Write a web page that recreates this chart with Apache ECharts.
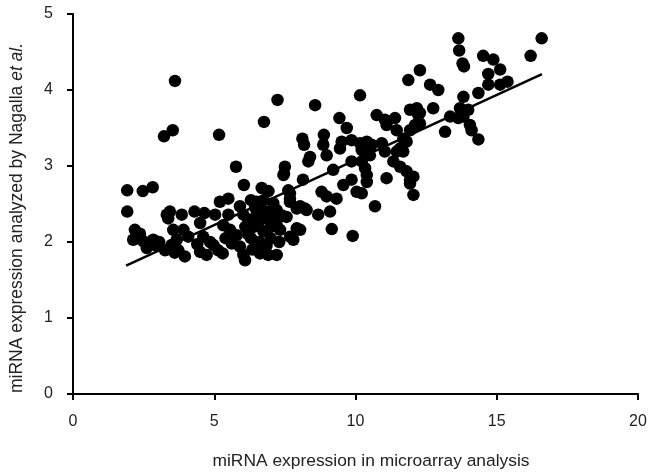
<!DOCTYPE html>
<html>
<head>
<meta charset="utf-8">
<script src="https://cdn.jsdelivr.net/npm/echarts@6/dist/echarts.min.js"></script>
<style>html,body{margin:0;padding:0;background:#fff;}#c{width:652px;height:474px;}</style>
</head>
<body>
<div id="c"></div>
<script>
var xTicks = [0, 5, 10, 15, 20];
var yTicks = [0, 1, 2, 3, 4, 5];
var xTitle = 'miRNA expression in microarray analysis';
var yTitleMain = 'miRNA expression analyzed by Nagalla ';
var yTitleItalic = 'et al.';
var points = [
[1.92,2.68],[1.92,2.40],[2.47,2.67],[2.82,2.72],
[2.19,2.16],[2.37,2.11],[2.13,2.03],[2.49,2.01],[2.84,2.03],[2.61,1.92],[2.90,1.96],[3.26,1.89],[3.05,2.00],
[3.32,2.36],[3.43,2.40],[3.37,2.31],[3.85,2.36],[4.30,2.40],[4.65,2.38],[5.03,2.36],[5.50,2.36],
[3.55,2.16],[3.67,2.03],[3.49,1.96],[3.73,1.89],[3.96,1.81],[3.91,2.16],[4.08,2.07],[3.60,1.86],
[4.50,2.25],[4.61,2.07],[4.85,2.00],[4.50,1.87],[4.73,1.83],[4.97,1.96],[5.14,1.89],[4.40,1.97],
[5.32,2.22],[5.56,2.16],[5.79,2.09],[5.62,1.98],[5.91,1.94],[6.03,1.83],[5.40,2.05],[5.30,1.85],
[5.20,2.53],[5.50,2.57],[5.91,2.47],[6.03,2.36],[6.50,2.53],[6.62,2.47],[7.09,2.51],[7.21,2.42],[8.04,2.47],
[3.22,3.39],[3.53,3.47],[3.61,4.12],[5.17,3.41],[6.76,3.58],[7.24,3.87],[5.77,2.99],[6.05,2.75],[6.68,2.71],[6.92,2.67],
[7.50,2.99],[7.47,2.90],[7.62,2.68],[7.68,2.57],[8.14,2.82],[8.12,3.36],[8.18,3.28],
[6.09,1.76],[6.62,1.85],[6.91,1.83],[7.21,1.83],[6.35,1.90],
[7.92,2.18],[7.68,2.07],[7.80,2.03],
[6.20,2.30],[6.40,2.20],[6.30,2.05],[6.50,2.35],[6.62,2.29],[6.74,2.14],[6.90,2.30],[7.09,2.38],[7.33,2.16],[7.00,2.05],
[6.60,2.00],[6.20,2.10],[6.45,2.45],[6.80,2.40],[7.20,2.25],[7.40,2.35],[6.10,2.20],[6.85,1.95],[7.30,2.00],[7.56,2.33],
[7.00,2.20],[6.30,2.55],[6.75,2.55],
[7.45,2.88],[7.68,2.64],[7.68,2.53],[7.92,2.44],[8.27,2.42],[8.68,2.36],[9.10,2.40],[9.16,2.17],[9.90,2.08],[8.04,2.16],[8.21,2.44],
[10.16,3.93],[8.57,3.80],[9.43,3.63],[9.69,3.50],[8.88,3.41],[8.86,3.28],[9.51,3.32],[9.45,3.23],[9.86,3.34],[8.39,3.12],[8.33,3.06],[8.98,3.14],
[10.16,3.30],[10.40,3.32],[10.57,3.28],[10.40,3.19],[10.22,3.21],[10.51,3.14],[10.93,3.30],[11.04,3.19],
[10.75,3.67],[11.04,3.61],[11.10,3.54],[11.40,3.63],[11.93,3.74],[12.17,3.76],[12.22,3.67],[12.75,3.76],
[11.46,3.47],[11.69,3.36],[11.81,3.32],[11.58,3.23],[11.69,3.19],[11.46,3.19],[11.93,3.47],[12.11,3.54],
[9.86,3.06],[10.22,3.06],[10.34,2.97],[10.40,2.88],[10.40,2.79],[9.21,2.95],
[9.57,2.75],[9.86,2.82],[10.04,2.66],[10.22,2.64],[8.80,2.66],[8.98,2.60],[9.33,2.57],[10.69,2.47],[11.10,2.84],
[11.34,3.06],[11.58,2.99],[11.81,2.93],[11.93,2.82],[11.93,2.77],[12.05,2.62],[12.05,2.86],
[13.82,3.91],[14.35,3.96],[12.28,3.70],[13.70,3.76],[13.99,3.74],[13.82,3.65],[13.35,3.65],[13.64,3.63],[13.17,3.45],[14.05,3.54],[14.11,3.47],[14.35,3.35],[12.28,3.56],
[13.64,4.68],[13.67,4.52],[13.79,4.35],[13.84,4.31],[16.59,4.68],[16.20,4.45],[14.52,4.45],[14.88,4.40],[15.12,4.27],[14.70,4.21],[14.70,4.07],[15.12,4.07],[15.38,4.11],
[12.28,4.26],[11.87,4.13],[12.64,4.07],[12.93,4.00]
];
var fitLine = [[1.88,1.69],[16.60,4.21]];

var chart = echarts.init(document.getElementById('c'), null, {renderer:'canvas'});
var font = 'Liberation Sans, Arial, Helvetica, sans-serif';
var axisCommon = {
  axisLine:{show:true, lineStyle:{color:'#000', width:2}},
  axisTick:{show:true, inside:false, length:6, lineStyle:{color:'#000', width:2}},
  splitLine:{show:false}
};
chart.setOption({
  animation:false,
  backgroundColor:'#fff',
  grid:{left:73, right:14, top:14, bottom:80, containLabel:false},
  xAxis: Object.assign({}, axisCommon, {
    type:'value', min:xTicks[0], max:xTicks[xTicks.length-1], interval:5,
    axisLabel:{color:'#222', fontSize:16, fontFamily:font, margin:20}
  }),
  yAxis: Object.assign({}, axisCommon, {
    type:'value', min:yTicks[0], max:yTicks[yTicks.length-1], interval:1,
    axisLabel:{color:'#222', fontSize:16, fontFamily:font, margin:20}
  }),
  graphic:[
    {type:'text', x:371, y:461, style:{text:xTitle, fill:'#222', font:'17.4px ' + font, align:'center', verticalAlign:'middle'}},
    {type:'text', x:17, y:218, rotation:Math.PI/2,
     style:{text:'{n|' + yTitleMain + '}{i|' + yTitleItalic + '}', align:'center', verticalAlign:'middle',
       rich:{n:{fontSize:17.5, fontFamily:font, fill:'#222', color:'#222'},
             i:{fontSize:17.5, fontFamily:font, fontStyle:'italic', fill:'#222', color:'#222'}}}}
  ],
  series:[
    {type:'scatter', data:points, symbol:'circle', symbolSize:12.5, itemStyle:{color:'#000', opacity:1}, z:3},
    {type:'line', data:fitLine, symbol:'none', lineStyle:{color:'#000', width:2.5}, z:4}
  ]
});
</script>
</body>
</html>
